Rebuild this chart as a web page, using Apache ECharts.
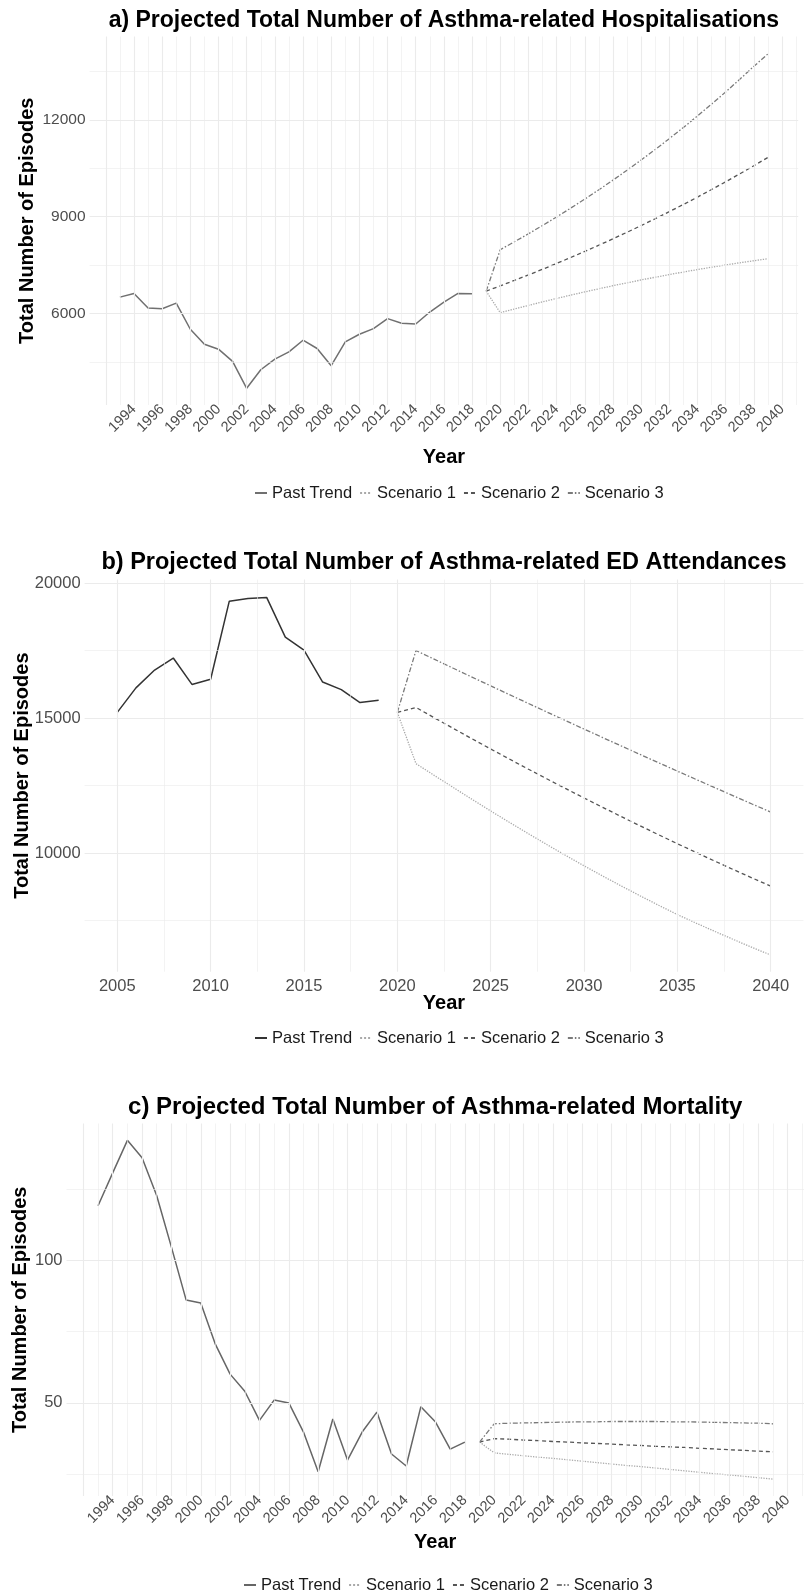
<!DOCTYPE html>
<html>
<head>
<meta charset="utf-8">
<title>Projected asthma outcomes</title>
<script src="https://cdn.jsdelivr.net/npm/echarts@6.0.0/dist/echarts.min.js"></script>
<style>
    html, body { margin: 0; padding: 0; background: #fff; }
    .panel { position: absolute; left: 0; width: 804px; }
    #hospChart { top: 0; height: 531px; }
    #edChart { top: 531px; height: 531px; }
    #mortChart { top: 1062px; height: 530px; }
</style>
</head>
<body>
<div id="hospChart" class="panel"></div>
<div id="edChart" class="panel"></div>
<div id="mortChart" class="panel"></div>
<script>
/* ---------- data ---------- */
var seriesNames = ['Past Trend', 'Scenario 1', 'Scenario 2', 'Scenario 3'];

// a) hospitalisations
var hospPastYears = [1993, 1994, 1995, 1996, 1997, 1998, 1999, 2000, 2001, 2002, 2003, 2004, 2005,
    2006, 2007, 2008, 2009, 2010, 2011, 2012, 2013, 2014, 2015, 2016, 2017, 2018];
var hospPast = [6503, 6616, 6164, 6144, 6318, 5507, 5045, 4890, 4510, 3678, 4253, 4582, 4808,
    5168, 4911, 4377, 5116, 5353, 5527, 5836, 5692, 5671, 6041, 6349, 6616, 6606];
var hospProjYears = [2019, 2020, 2021, 2022, 2023, 2024, 2025, 2026, 2027, 2028, 2029, 2030,
    2031, 2032, 2033, 2034, 2035, 2036, 2037, 2038, 2039];
var hospScen1 = [6688, 6020, 6135, 6247, 6356, 6462, 6565, 6665, 6762, 6856, 6947, 7035,
    7120, 7202, 7281, 7357, 7430, 7500, 7567, 7631, 7692];
var hospScen2 = [6688, 6852, 7020, 7191, 7366, 7546, 7730, 7919, 8112, 8310, 8513, 8720,
    8933, 9151, 9374, 9603, 9837, 10077, 10323, 10575, 10833];
var hospScen3 = [6688, 7973, 8217, 8466, 8723, 8988, 9261, 9541, 9830, 10128, 10435, 10752,
    11078, 11413, 11760, 12116, 12484, 12862, 13252, 13654, 14040];
var hospYTicks = [6000, 9000, 12000];

// b) ED attendances
var edPastYears = [2005, 2006, 2007, 2008, 2009, 2010, 2011, 2012, 2013, 2014, 2015, 2016, 2017, 2018, 2019];
var edPast = [15208, 16117, 16777, 17221, 16244, 16434, 19327, 19429, 19467, 17995, 17513, 16332, 16053, 15571, 15660];
var edProjYears = [2020, 2021, 2022, 2023, 2024, 2025, 2026, 2027, 2028, 2029, 2030,
    2031, 2032, 2033, 2034, 2035, 2036, 2037, 2038, 2039, 2040];
var edScen1 = [15208, 13309, 12864, 12424, 11988, 11556, 11136, 10722, 10316, 9916, 9524,
    9146, 8776, 8414, 8062, 7718, 7402, 7096, 6796, 6504, 6220];
var edScen2 = [15208, 15392, 15000, 14613, 14230, 13853, 13480, 13112, 12749, 12391, 12038,
    11690, 11346, 11007, 10673, 10344, 10020, 9700, 9385, 9075, 8770];
var edScen3 = [15208, 17500, 17170, 16842, 16515, 16190, 15867, 15545, 15225, 14907, 14590,
    14275, 13962, 13650, 13340, 13032, 12725, 12420, 12117, 11815, 11515];
var edXTicks = [2005, 2010, 2015, 2020, 2025, 2030, 2035, 2040];
var edYTicks = [10000, 15000, 20000];

// c) mortality
var mortPastYears = [1993, 1994, 1995, 1996, 1997, 1998, 1999, 2000, 2001, 2002, 2003, 2004, 2005,
    2006, 2007, 2008, 2009, 2010, 2011, 2012, 2013, 2014, 2015, 2016, 2017, 2018];
var mortPast = [119.1, 130.6, 142.0, 135.9, 122.6, 104.6, 86.1, 85.0, 70.5, 60.1, 54.1, 43.9, 51.0,
    50.0, 39.8, 25.9, 44.4, 30.0, 39.8, 46.8, 32.1, 27.9, 48.7, 43.3, 33.8, 36.3];
var mortProjYears = [2019, 2020, 2021, 2022, 2023, 2024, 2025, 2026, 2027, 2028, 2029, 2030,
    2031, 2032, 2033, 2034, 2035, 2036, 2037, 2038, 2039];
var mortScen1 = [36.3, 32.5, 32.0, 31.5, 31.0, 30.6, 30.1, 29.6, 29.1, 28.6, 28.1, 27.7,
    27.2, 26.7, 26.2, 25.7, 25.2, 24.8, 24.3, 23.8, 23.3];
var mortScen2 = [36.3, 37.5, 37.3, 37.0, 36.8, 36.5, 36.3, 36.0, 35.8, 35.6, 35.3, 35.1,
    34.8, 34.6, 34.4, 34.1, 33.9, 33.6, 33.4, 33.1, 32.9];
var mortScen3 = [36.3, 42.7, 42.9, 43.0, 43.1, 43.2, 43.3, 43.4, 43.4, 43.5, 43.5, 43.5,
    43.5, 43.4, 43.4, 43.3, 43.2, 43.1, 43.0, 42.9, 42.7];
var mortYTicks = [50, 100];

// shared year labels for panels a and c
var longXTicks = [1994, 1996, 1998, 2000, 2002, 2004, 2006, 2008, 2010, 2012, 2014, 2016, 2018,
    2020, 2022, 2024, 2026, 2028, 2030, 2032, 2034, 2036, 2038, 2040];

/* ---------- helpers ---------- */
var FONT = "'Liberation Sans', Arial, Helvetica, sans-serif";

function pairs(xs, ys) {
    return xs.map(function (x, i) { return [x, ys[i]]; });
}

// ggplot-like grid: majors at the breaks, minors half way, kept inside the panel
function gridMarks(ticks, min, max, dir) {
    var step = ticks[1] - ticks[0];
    var out = [];
    for (var v = ticks[0] - step; v <= ticks[ticks.length - 1] + step + 1e-9; v += step / 2) {
        if (v < min || v > max) continue;
        var major = Math.abs(((v - ticks[0]) / step) - Math.round((v - ticks[0]) / step)) < 1e-6;
        var item = { lineStyle: { width: major ? 1.1 : 0.6 } };
        item[dir] = v;
        out.push(item);
    }
    return out;
}

function lineSeries(name, data, color, type, width) {
    return {
        name: name,
        type: 'line',
        data: data,
        symbol: 'none',
        showSymbol: false,
        z: 3,
        itemStyle: { color: color },
        lineStyle: { color: color, width: width, type: type }
    };
}

function makeOption(p) {
    var gridLines = gridMarks(p.xTicks, p.xMin, p.xMax, 'xAxis')
        .concat(gridMarks(p.yGridTicks, p.yMin, p.yMax, 'yAxis'));
    var plotLeft = p.grid.left;
    var plotRight = p.width - p.grid.right;
    var plotTop = p.grid.top;
    var plotBottom = p.height - p.grid.bottom;
    var cx = (plotLeft + plotRight) / 2;

    return {
        animation: false,
        grid: p.grid,
        legend: {
            data: seriesNames,
            left: p.legendLeft,
            top: p.legendTop,
            itemWidth: 12,
            itemHeight: 8,
            itemGap: 7,
            // line keys only, no marker dot
            itemStyle: { opacity: 0 },
            textStyle: { fontFamily: FONT, fontSize: 16.5, color: '#1a1a1a', lineHeight: 18 }
        },
        xAxis: {
            type: 'value',
            min: p.xMin,
            max: p.xMax,
            axisLine: { show: false },
            axisTick: { show: false },
            splitLine: { show: false },
            axisLabel: {
                customValues: p.xTicks,
                rotate: p.xRotate,
                margin: p.xMargin,
                fontFamily: FONT,
                fontSize: p.xFont,
                color: '#4d4d4d',
                formatter: function (v) { return String(v); }
            }
        },
        yAxis: {
            type: 'value',
            min: p.yMin,
            max: p.yMax,
            axisLine: { show: false },
            axisTick: { show: false },
            splitLine: { show: false },
            axisLabel: {
                customValues: p.yTicks,
                margin: 4,
                fontFamily: FONT,
                fontSize: p.yFont,
                color: '#4d4d4d',
                formatter: function (v) { return String(v); }
            }
        },
        graphic: [
            {
                type: 'text', x: cx, y: p.titleY,
                style: { text: p.title, font: 'bold ' + p.titleFont + 'px ' + FONT, fill: '#000', align: 'center', verticalAlign: 'middle' }
            },
            {
                type: 'text', x: cx, y: p.xNameY,
                style: { text: 'Year', font: 'bold 20px ' + FONT, fill: '#000', align: 'center', verticalAlign: 'middle' }
            },
            {
                type: 'text', x: p.yNameX, y: (plotTop + plotBottom) / 2, rotation: Math.PI / 2,
                style: { text: 'Total Number of Episodes', font: 'bold 20px ' + FONT, fill: '#000', align: 'center', verticalAlign: 'middle' }
            }
        ],
        series: [
            {
                name: 'grid',
                type: 'line',
                data: [],
                z: 1,
                silent: true,
                markLine: {
                    silent: true,
                    symbol: ['none', 'none'],
                    label: { show: false },
                    lineStyle: { color: '#ebebeb', type: 'solid' },
                    data: gridLines
                }
            },
            lineSeries(seriesNames[0], pairs(p.pastYears, p.past), p.pastColor, 'solid', 1.5),
            lineSeries(seriesNames[1], pairs(p.projYears, p.scen1), '#a9a9a9', 'dotted', 1.3),
            lineSeries(seriesNames[2], pairs(p.projYears, p.scen2), '#555555', [4, 3], 1.3),
            lineSeries(seriesNames[3], pairs(p.projYears, p.scen3), '#7a7a7a', [5, 2, 1.5, 2], 1.3)
        ]
    };
}

/* ---------- a) hospitalisations ---------- */
var hospChart = echarts.init(document.getElementById('hospChart'));
var option = makeOption({
    width: 804, height: 531,
    grid: { left: 89.6, right: 5.8, top: 36.5, bottom: 126 },
    xMin: 1990.85, xMax: 2041.15, yMin: 3160, yMax: 14580,
    xTicks: longXTicks, yTicks: hospYTicks, yGridTicks: hospYTicks,
    xRotate: 45, xMargin: 2, xFont: 14.5, yFont: 15.5,
    title: 'a) Projected Total Number of Asthma-related Hospitalisations', titleFont: 23, titleY: 21,
    xNameY: 457, yNameX: 27,
    legendLeft: 249, legendTop: 479,
    pastYears: hospPastYears, past: hospPast, pastColor: '#707070',
    projYears: hospProjYears, scen1: hospScen1, scen2: hospScen2, scen3: hospScen3
});
hospChart.setOption(option);

/* ---------- b) ED attendances ---------- */
var edChart = echarts.init(document.getElementById('edChart'));
option = makeOption({
    width: 804, height: 531,
    grid: { left: 84.6, right: 0.6, top: 48.6, bottom: 90.3 },
    xMin: 2003.25, xMax: 2041.75, yMin: 5602, yMax: 20127,
    xTicks: edXTicks, yTicks: edYTicks, yGridTicks: edYTicks,
    xRotate: 0, xMargin: 6, xFont: 16.5, yFont: 16.5,
    title: 'b) Projected Total Number of Asthma-related ED Attendances', titleFont: 23.5, titleY: 32,
    xNameY: 472, yNameX: 22,
    legendLeft: 249, legendTop: 493,
    pastYears: edPastYears, past: edPast, pastColor: '#333333',
    projYears: edProjYears, scen1: edScen1, scen2: edScen2, scen3: edScen3
});
edChart.setOption(option);

/* ---------- c) mortality ---------- */
var mortChart = echarts.init(document.getElementById('mortChart'));
option = makeOption({
    width: 804, height: 530,
    grid: { left: 66.5, right: 0, top: 61.5, bottom: 96 },
    xMin: 1990.85, xMax: 2041.11, yMin: 17.4, yMax: 147.9,
    xTicks: longXTicks, yTicks: mortYTicks, yGridTicks: mortYTicks,
    xRotate: 45, xMargin: 2, xFont: 14.5, yFont: 16.5,
    title: 'c) Projected Total Number of Asthma-related Mortality', titleFont: 24, titleY: 45,
    xNameY: 480, yNameX: 20.5,
    legendLeft: 238, legendTop: 509,
    pastYears: mortPastYears, past: mortPast, pastColor: '#666666',
    projYears: mortProjYears, scen1: mortScen1, scen2: mortScen2, scen3: mortScen3
});
mortChart.setOption(option);
</script>
</body>
</html>
